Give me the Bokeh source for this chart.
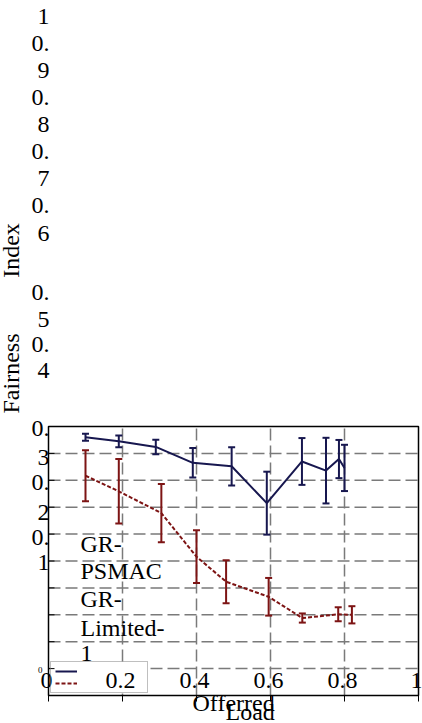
import re
import math
from bokeh.plotting import figure
from bokeh.models import (Label, Legend, LegendItem, Whisker, TeeHead,
                          ColumnDataSource, Range1d, BoxAnnotation)
from bokeh.embed import file_html
from bokeh.resources import INLINE

# ---------------- data ----------------
series_names = ["GR-PSMAC", "GR-Limited-1"]

load_psmac = [0.10, 0.19, 0.29, 0.39, 0.495, 0.59, 0.685, 0.75, 0.785, 0.80]
fair_psmac = [0.96, 0.945, 0.924, 0.865, 0.852, 0.715, 0.87, 0.836, 0.879, 0.846]
err_psmac = [0.013, 0.022, 0.027, 0.055, 0.071, 0.117, 0.087, 0.122, 0.071, 0.086]

load_limited = [0.10, 0.19, 0.305, 0.40, 0.48, 0.595, 0.686, 0.783, 0.82]
fair_limited = [0.817, 0.759, 0.678, 0.516, 0.423, 0.367, 0.288, 0.302, 0.30]
err_limited = [0.095, 0.12, 0.108, 0.098, 0.08, 0.07, 0.017, 0.026, 0.032]

x_ticks = [0, 0.2, 0.4, 0.6, 0.8, 1]
x_tick_labels = ["0", "0.2", "0.4", "0.6", "0.8", "1"]
x_grid = [0.2, 0.4, 0.6, 0.8]
y_ticks = [1, 0.9, 0.8, 0.7, 0.6, 0.5, 0.4, 0.3, 0.2, 0.1, 0]
y_tick_labels = ["1", "0.9", "0.8", "0.7", "0.6", "0.5", "0.4", "0.3", "0.2", "0.1", "0"]
y_grid = [0.1, 0.2, 0.3, 0.4, 0.5, 0.6, 0.7, 0.8, 0.9]
x_title_words = ["Offerred", "Load"]
y_title_words = ["Fairness", "Index"]

# ---------------- layout (pixels) ----------------
W, H = 422, 723
BOX_L, BOX_R, BOX_T, BOX_B = 48, 418, 426, 695
LEG_L, LEG_R, LEG_T, LEG_B = 50, 149, 664, 693
FONT = "Liberation Serif"
BLUE = "#17174f"
RED = "#7d1414"
GRID = "#7a7a7a"
TEXT_DY = -8  # baseline correction

kx = BOX_R - BOX_L
ky = BOX_B - BOX_T


def sy(py):
    return H - (py + TEXT_DY)


p = figure(width=W, height=H, output_backend="svg", toolbar_location=None,
           x_range=Range1d(-BOX_L / kx, (W - BOX_L) / kx),
           y_range=Range1d(-(H - BOX_B) / ky, BOX_B / ky),
           min_border=0, x_axis_type=None, y_axis_type=None)
p.outline_line_color = None
p.xgrid.visible = False
p.ygrid.visible = False
p.background_fill_color = "white"
p.border_fill_color = "white"

# grid lines inside the chart box
g1 = p.segment(x0=x_grid, y0=[0] * len(x_grid), x1=x_grid, y1=[1] * len(x_grid),
               line_color=GRID, line_dash="12 5", line_width=1.5)
g2 = p.segment(x0=[0] * len(y_grid), y0=y_grid, x1=[1] * len(y_grid), y1=y_grid,
               line_color=GRID, line_dash="12 5", line_width=1.5)
for r in (g1, g2):
    r.level = "image"

# white legend background (covers the grid under the legend)
p.add_layout(BoxAnnotation(left=LEG_L, right=LEG_R, top=H - LEG_T, bottom=H - LEG_B,
                           left_units="screen", right_units="screen",
                           top_units="screen", bottom_units="screen",
                           fill_color="white", fill_alpha=1, line_color=None,
                           level="underlay", editable=False))

# tick marks
t1 = p.ray(x=[0] * len(y_grid), y=y_grid, length=6, length_units="screen", angle=0,
           line_color="black", line_width=1)
t2 = p.ray(x=x_ticks, y=[0] * len(x_ticks), length=6, length_units="screen",
           angle=-math.pi / 2, line_color="black", line_width=1)
# chart box
box = p.quad(left=[0], right=[1], bottom=[0], top=[1], fill_color=None,
             line_color="black", line_width=1.5)

# ---------------- series ----------------
src_b = ColumnDataSource(dict(x=load_psmac, y=fair_psmac,
                              upper=[v + e for v, e in zip(fair_psmac, err_psmac)],
                              lower=[v - e for v, e in zip(fair_psmac, err_psmac)]))
src_r = ColumnDataSource(dict(x=load_limited, y=fair_limited,
                              upper=[v + e for v, e in zip(fair_limited, err_limited)],
                              lower=[v - e for v, e in zip(fair_limited, err_limited)]))

r_b = p.line("x", "y", source=src_b, line_color=BLUE, line_width=2)
r_r = p.line("x", "y", source=src_r, line_color=RED, line_width=2, line_dash="4 2")

for src, col in ((src_b, BLUE), (src_r, RED)):
    w = Whisker(source=src, base="x", upper="upper", lower="lower",
                line_color=col, line_width=2, level="glyph",
                upper_head=TeeHead(size=7, line_color=col, line_width=2),
                lower_head=TeeHead(size=7, line_color=col, line_width=2))
    p.add_layout(w)

# ---------------- legend (box with samples) ----------------
legend = Legend(items=[LegendItem(label="", renderers=[r_b]),
                       LegendItem(label="", renderers=[r_r])],
                location=(LEG_L, H - LEG_B), label_text_font_size="10px",
                label_width=62, label_height=10, glyph_height=10, glyph_width=22,
                label_standoff=4, padding=4, spacing=2, margin=0,
                border_line_color="#808080", border_line_width=1.5,
                background_fill_alpha=0)
p.add_layout(legend)

# wrapped legend label texts (overflowing above the box)
legend_lines = []
for name in series_names:
    legend_lines += re.findall(r"[^-]+-?", name)
legend_bottoms = [551, 578, 606, 635, 661]
for txt, b in zip(legend_lines, legend_bottoms):
    p.add_layout(Label(x=80, y=sy(b), x_units="screen", y_units="screen",
                       text=txt, text_font=FONT, text_font_size="24px",
                       text_color="black", text_align="left",
                       text_baseline="alphabetic", level="overlay"))

# ---------------- x tick labels (drawn inside the box, above the legend) ----------------
for t, lab in zip(x_ticks, x_tick_labels):
    p.add_layout(Label(x=t, y=sy(688), x_units="data", y_units="screen",
                       x_offset=-2, text=lab, text_font=FONT,
                       text_font_size="24px", text_color="black",
                       text_align="center", text_baseline="alphabetic",
                       level="overlay"))

# ---------------- y tick labels (wrapped, flowing from the top) ----------------
ytick_bottoms = [[24], [51, 78], [105, 132], [159, 186], [213, 241], [300, 327],
                 [352, 378], [436, 465], [490, 520], [545, 570], [677]]
for lab, bottoms in zip(y_tick_labels, ytick_bottoms):
    parts = [lab] if "." not in lab else [lab[:2], lab[2:]]
    small = lab == "0"
    for part, b in zip(parts, bottoms):
        p.add_layout(Label(x=42 if small else 49, y=sy(b), x_units="screen",
                           y_units="screen", text=part, text_font=FONT,
                           text_font_size="9px" if small else "24px",
                           text_color="black", text_align="right",
                           text_baseline="alphabetic", level="overlay"))

# ---------------- axis titles ----------------
x_title_pos = [(192, 710), (225, 719)]
for word, (lx, b) in zip(x_title_words, x_title_pos):
    p.add_layout(Label(x=lx, y=sy(b), x_units="screen", y_units="screen",
                       text=word, text_font=FONT, text_font_size="24px",
                       text_color="black", text_align="left",
                       text_baseline="alphabetic", level="overlay"))

y_title_pos = [373, 250]
for word, cy in zip(y_title_words, y_title_pos):
    p.add_layout(Label(x=10, y=H - cy, x_units="screen", y_units="screen",
                       text=word, text_font=FONT, text_font_size="24px",
                       text_color="black", text_align="center",
                       text_baseline="alphabetic", angle=math.pi / 2))

open("out.html", "w").write(file_html(p, INLINE))
